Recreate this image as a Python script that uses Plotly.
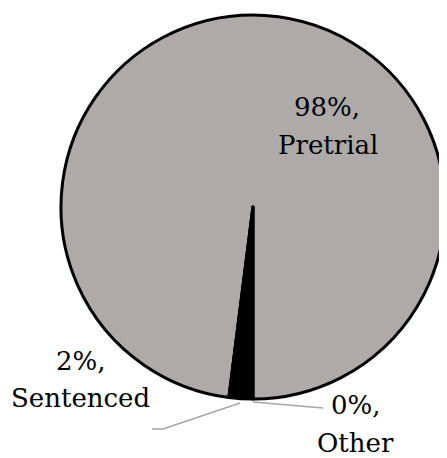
import plotly.graph_objects as go

categories = ["Pretrial", "Sentenced", "Other"]
values = [98, 2, 0]
pct_labels = ["98%,", "2%,", "0%,"]
colors = ["#AEAAAA", "#000000", "#FFFFFF"]

# The page body adds an 8px offset; size the figure to the visible area.
OFF = 8
W, H = 447 - OFF, 458 - OFF

def px(x):
    return (x - OFF) / W

def py(y):
    return (H - (y - OFF)) / H

# pie geometry (reference pixels)
CX, CY, R = 253, 207, 192

fig = go.Figure()
fig.add_trace(go.Pie(
    labels=categories,
    values=values,
    sort=False,
    direction="clockwise",
    rotation=187.2,
    marker=dict(colors=colors, line=dict(color="#000000", width=3)),
    textinfo="none",
    hoverinfo="label+percent",
    showlegend=False,
    domain=dict(x=[px(CX - R), min(1.0, px(CX + R))],
                y=[py(CY + R), py(CY - R)]),
))

font = dict(family="DejaVu Serif", size=26, color="#000000")

label_pos = {
    "Pretrial": ((327, 107), (328, 145)),
    "Sentenced": ((81, 361), (80, 398)),
    "Other": ((356, 405), (355, 443)),
}
for cat, pct in zip(categories, pct_labels):
    (x1, y1), (x2, y2) = label_pos[cat]
    fig.add_annotation(x=px(x1), y=py(y1), xref="paper", yref="paper",
                       text=pct, showarrow=False, font=font,
                       xanchor="center", yanchor="middle")
    fig.add_annotation(x=px(x2), y=py(y2), xref="paper", yref="paper",
                       text=cat, showarrow=False, font=font,
                       xanchor="center", yanchor="middle")

leader = dict(color="#A6A6A6", width=1.5)
fig.add_shape(type="path", xref="paper", yref="paper",
              path=f"M {px(240)} {py(403)} L {px(163)} {py(429)} L {px(152)} {py(429)}",
              line=leader)
fig.add_shape(type="path", xref="paper", yref="paper",
              path=f"M {px(253)} {py(402)} L {px(323)} {py(408)}",
              line=leader)

fig.update_layout(
    width=W, height=H,
    margin=dict(l=0, r=0, t=0, b=0),
    paper_bgcolor="#FFFFFF",
    plot_bgcolor="#FFFFFF",
)

fig.write_html("out.html")
